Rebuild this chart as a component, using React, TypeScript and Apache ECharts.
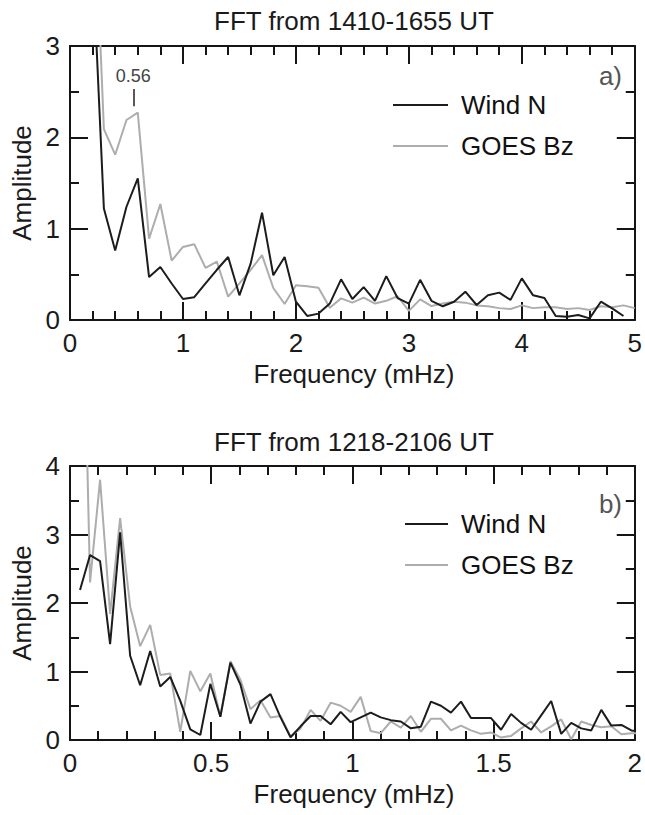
import React, { useEffect, useRef } from "react";
import * as echarts from "echarts";

const FONT = '"Liberation Sans", Arial, Helvetica, sans-serif';

// Panel a) FFT from 1410-1655 UT
const freqA = [0.2, 0.3, 0.4, 0.5, 0.6, 0.7, 0.8, 0.9, 1.0, 1.1, 1.2, 1.3, 1.4, 1.5, 1.6, 1.7, 1.8, 1.9, 2.0, 2.1, 2.2, 2.3, 2.4, 2.5, 2.6, 2.7, 2.8, 2.9, 3.0, 3.1, 3.2, 3.3, 3.4, 3.5, 3.6, 3.7, 3.8, 3.9, 4.0, 4.1, 4.2, 4.3, 4.4, 4.5, 4.6, 4.7, 4.8, 4.9, 5.0];
const windA = [3.96, 1.22, 0.76, 1.24, 1.55, 0.47, 0.58, 0.40, 0.23, 0.25, 0.40, 0.55, 0.69, 0.27, 0.62, 1.175, 0.49, 0.69, 0.20, 0.044, 0.07, 0.18, 0.445, 0.23, 0.36, 0.21, 0.48, 0.24, 0.18, 0.44, 0.21, 0.15, 0.20, 0.31, 0.164, 0.27, 0.30, 0.22, 0.456, 0.27, 0.24, 0.044, 0.036, 0.055, 0.018, 0.20, 0.128, 0.044];
const goesA = [5.1, 2.09, 1.81, 2.19, 2.27, 0.89, 1.27, 0.65, 0.80, 0.83, 0.57, 0.64, 0.255, 0.40, 0.55, 0.71, 0.35, 0.175, 0.38, 0.37, 0.354, 0.135, 0.237, 0.19, 0.245, 0.18, 0.21, 0.26, 0.10, 0.226, 0.153, 0.18, 0.20, 0.19, 0.16, 0.15, 0.13, 0.12, 0.16, 0.13, 0.14, 0.14, 0.12, 0.13, 0.11, 0.15, 0.14, 0.16, 0.13];

// Panel b) FFT from 1218-2106 UT
const freqB = [0.0355, 0.071, 0.1065, 0.142, 0.1775, 0.213, 0.2485, 0.284, 0.3195, 0.355, 0.3905, 0.426, 0.4615, 0.497, 0.5325, 0.568, 0.6035, 0.639, 0.6745, 0.71, 0.7455, 0.781, 0.8165, 0.852, 0.8875, 0.923, 0.9585, 0.994, 1.0295, 1.065, 1.1005, 1.136, 1.1715, 1.207, 1.2425, 1.278, 1.3135, 1.349, 1.3845, 1.42, 1.4555, 1.491, 1.5265, 1.562, 1.5975, 1.633, 1.6685, 1.704, 1.7395, 1.775, 1.8105, 1.846, 1.8815, 1.917, 1.9525, 1.988, 2.0235];
const windB = [2.19, 2.70, 2.61, 1.40, 3.03, 1.23, 0.80, 1.30, 0.78, 0.92, 0.57, 0.156, 0.073, 0.82, 0.34, 1.13, 0.81, 0.24, 0.56, 0.67, 0.33, 0.04, 0.20, 0.35, 0.35, 0.23, 0.41, 0.26, 0.33, 0.40, 0.33, 0.29, 0.27, 0.17, 0.195, 0.56, 0.50, 0.40, 0.56, 0.32, 0.32, 0.32, 0.15, 0.38, 0.25, 0.15, 0.36, 0.57, 0.09, 0.25, 0.17, 0.14, 0.44, 0.21, 0.22, 0.14, 0.12];
const goesB = [8.7, 2.30, 3.80, 1.84, 3.24, 1.95, 1.37, 1.68, 0.95, 0.97, 0.12, 1.01, 0.71, 0.97, 0.34, 1.15, 0.88, 0.45, 0.58, 0.33, 0.35, 0.05, 0.17, 0.44, 0.28, 0.545, 0.50, 0.41, 0.63, 0.13, 0.10, 0.27, 0.18, 0.35, 0.12, 0.31, 0.31, 0.14, 0.21, 0.14, 0.09, 0.11, 0.035, 0.06, 0.17, 0.27, 0.11, 0.20, 0.30, 0.01, 0.27, 0.22, 0.185, 0.20, 0.085, 0.10, 0.10];

const seriesNames = ["Wind N", "GOES Bz"];
const titles = ["FFT from 1410-1655 UT", "FFT from 1218-2106 UT"];
const panelTags = ["a)", "b)"];
const peakLabel = "0.56";
const peakFreq = 0.56;

const BLACK = "#1c1c1c";
const GRAY = "#adadad";
const AXIS = "#151515";

function zip(xs: number[], ys: number[]) {
  return ys.map((v, i) => [xs[i], v]);
}

function xAx(grid: number, pos: string, max: number, interval: number, labels: boolean) {
  return {
    type: "value",
    gridIndex: grid,
    position: pos,
    min: 0,
    max,
    interval,
    axisLine: { show: true, onZero: false, lineStyle: { color: AXIS, width: 2 } },
    axisTick: { show: true, inside: true, length: 18, lineStyle: { color: AXIS, width: 2 } },
    minorTick: { show: true, splitNumber: 5, length: 9, lineStyle: { color: AXIS, width: 2 } },
    splitLine: { show: false },
    minorSplitLine: { show: false },
    axisLabel: {
      show: labels,
      fontSize: 26,
      fontFamily: FONT,
      color: "#1a1a1a",
      margin: 10,
      showMinLabel: true,
      showMaxLabel: true,
    },
  };
}

function yAx(grid: number, pos: string, max: number, labels: boolean) {
  return {
    type: "value",
    gridIndex: grid,
    position: pos,
    min: 0,
    max,
    interval: 1,
    axisLine: { show: true, onZero: false, lineStyle: { color: AXIS, width: 2 } },
    axisTick: { show: true, inside: true, length: 18, lineStyle: { color: AXIS, width: 2 } },
    minorTick: { show: true, splitNumber: 2, length: 9, lineStyle: { color: AXIS, width: 2 } },
    splitLine: { show: false },
    minorSplitLine: { show: false },
    axisLabel: {
      show: labels,
      fontSize: 26,
      fontFamily: FONT,
      color: "#1a1a1a",
      margin: 10,
      showMinLabel: true,
      showMaxLabel: true,
    },
  };
}

function textEl(text: string, x: number, y: number, size: number, color: string, align = "center", rotation = 0) {
  return {
    type: "text",
    x,
    y,
    rotation,
    silent: true,
    style: {
      text,
      fill: color,
      font: `${size}px ${FONT}`,
      textAlign: align,
      align,
      textVerticalAlign: "middle",
      verticalAlign: "middle",
    },
  };
}

function lineSeries(name: string, data: number[][], color: string, idx: number, extra: any = {}) {
  return {
    type: "line",
    name,
    xAxisIndex: idx,
    yAxisIndex: idx,
    data,
    showSymbol: false,
    symbol: "none",
    clip: true,
    color,
    lineStyle: { color, width: 2 },
    itemStyle: { color },
    z: color === BLACK ? 3 : 2,
    ...extra,
  };
}

export default function App() {
  const ref = useRef<HTMLDivElement>(null);

  useEffect(() => {
    if (!ref.current) return;
    const chart = echarts.init(ref.current, undefined, { renderer: "svg" });

    const legendBase = {
      data: seriesNames,
      orient: "vertical",
      padding: 0,
      itemHeight: 2,
      itemGap: 15,
      icon: "rect",
      selectedMode: false,
      textStyle: { fontSize: 26, fontFamily: FONT, color: "#111", lineHeight: 26, padding: [0, 0, 0, 8] },
    };

    const option: any = {
      animation: false,
      backgroundColor: "#ffffff",
      grid: [
        { left: 70, top: 46, width: 568, height: 274, containLabel: false },
        { left: 70, top: 466, width: 568, height: 274, containLabel: false },
      ],
      xAxis: [
        xAx(0, "bottom", 5, 1, true),
        xAx(0, "top", 5, 1, false),
        xAx(1, "bottom", 2, 0.5, true),
        xAx(1, "top", 2, 0.5, false),
      ],
      yAxis: [
        yAx(0, "left", 3, true),
        yAx(0, "right", 3, false),
        yAx(1, "left", 4, true),
        yAx(1, "right", 4, false),
      ],
      legend: [
        { ...legendBase, left: 393, top: 92, itemWidth: 55 },
        { ...legendBase, left: 405, top: 511, itemWidth: 43 },
      ],
      series: [
        lineSeries(seriesNames[1], zip(freqA, goesA), GRAY, 0),
        lineSeries(seriesNames[0], zip(freqA, windA), BLACK, 0, {
          markLine: {
            silent: true,
            symbol: ["none", "none"],
            lineStyle: { color: "#222", width: 1.5, type: "solid" },
            label: {
              show: true,
              position: "end",
              formatter: peakLabel,
              fontSize: 18,
              fontFamily: FONT,
              color: "#444",
              distance: 4,
            },
            data: [[{ coord: [peakFreq, 2.34] }, { coord: [peakFreq, 2.53] }]],
          },
        }),
        lineSeries(seriesNames[1], zip(freqB, goesB), GRAY, 2),
        lineSeries(seriesNames[0], zip(freqB, windB), BLACK, 2),
      ],
      graphic: [
        textEl(titles[0], 354, 21, 26, "#1a1a1a"),
        textEl(titles[1], 354, 442, 26, "#1a1a1a"),
        textEl("Frequency (mHz)", 354, 374, 26, "#1a1a1a"),
        textEl("Frequency (mHz)", 354, 794, 26, "#1a1a1a"),
        textEl("Amplitude", 22, 183, 26, "#1a1a1a", "center", Math.PI / 2),
        textEl("Amplitude", 22, 603, 26, "#1a1a1a", "center", Math.PI / 2),
        textEl(panelTags[0], 622, 76, 26, "#555", "right"),
        textEl(panelTags[1], 622, 504, 26, "#555", "right"),
      ],
    };

    chart.setOption(option);
    return () => chart.dispose();
  }, []);

  return (
    <div
      ref={ref}
      style={{ position: "absolute", left: 0, top: 0, width: 645, height: 815, background: "#fff" }}
    />
  );
}
